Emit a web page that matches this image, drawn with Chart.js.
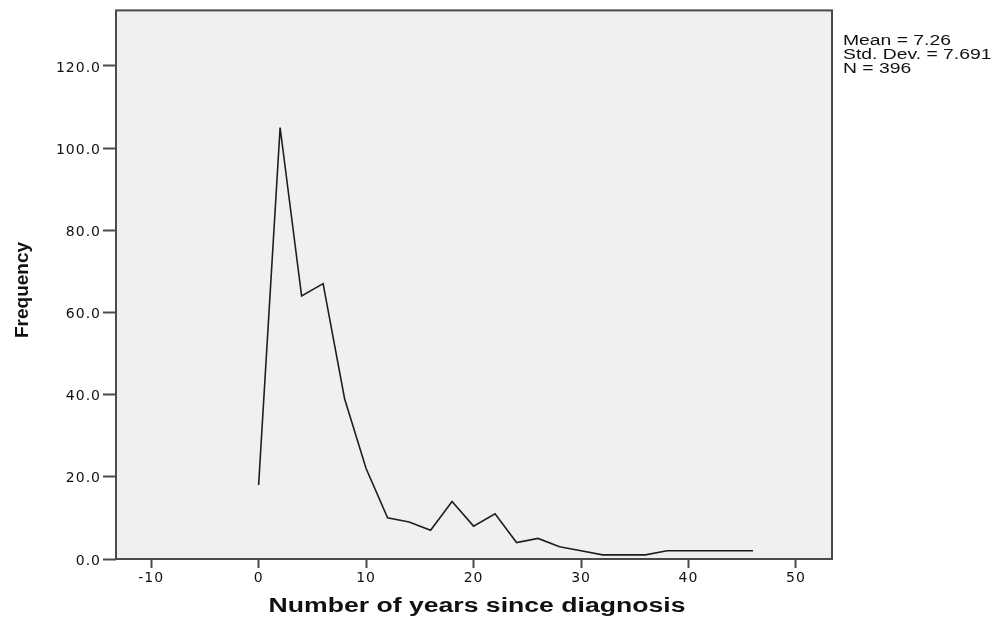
<!DOCTYPE html>
<html>
<head>
<meta charset="utf-8">
<script src="https://cdn.jsdelivr.net/npm/chart.js@4.4.0/dist/chart.umd.min.js"></script>
<style>
  html, body { margin: 0; padding: 0; background: #ffffff; }
  #wrap { width: 993px; height: 619px; }
</style>
</head>
<body>
<div id="wrap"><canvas id="chart" width="993" height="619"></canvas></div>
<script>
// Frequency polygon: years since diagnosis
const yearsSinceDiagnosis = [0, 2, 4, 6, 8, 10, 12, 14, 16, 18, 20, 22, 24, 26, 28, 30, 32, 34, 36, 38, 40, 42, 44, 46];
const frequencies = [18, 105, 64, 67, 39, 22, 10, 9, 7, 14, 8, 11, 4, 5, 3, 2, 1, 1, 1, 2, 2, 2, 2, 2];

const xTickValues = [-10, 0, 10, 20, 30, 40, 50];
const yTickValues = [0, 20, 40, 60, 80, 100, 120];
const xTitle = "Number of years since diagnosis";
const yTitle = "Frequency";
const statsLines = ["Mean = 7.26", "Std. Dev. = 7.691", "N = 396"];

// the original picture is stretched sideways, so the text is wide
const wideFont = "'DejaVu Sans', Verdana, sans-serif";
const arialFont = "'Liberation Sans', Arial, sans-serif";

// draw text stretched horizontally by sx
function wideText(ctx, text, x, y, sx) {
    ctx.save();
    ctx.translate(x, y);
    ctx.scale(sx, 1);
    ctx.fillText(text, 0, 0);
    ctx.restore();
}

// plot background, frame, axis titles and the stats text
const framePlugin = {
    id: "frame",
    beforeDraw(chart) {
        const { ctx, chartArea: a } = chart;
        ctx.letterSpacing = "1px";
        ctx.save();
        ctx.fillStyle = "#f0f0f0";
        ctx.fillRect(a.left, a.top, a.right - a.left, a.bottom - a.top);
        ctx.restore();
    },
    afterDraw(chart) {
        const { ctx, chartArea: a } = chart;
        ctx.save();
        ctx.letterSpacing = "0px";
        ctx.strokeStyle = "#4a4a4a";
        ctx.lineWidth = 2;
        ctx.strokeRect(a.left, a.top, a.right - a.left, a.bottom - a.top);

        ctx.fillStyle = "#111111";
        ctx.font = "14px " + arialFont;
        ctx.textAlign = "left";
        ctx.textBaseline = "middle";
        statsLines.forEach((line, i) => {
            wideText(ctx, line, a.right + 11, 41 + i * 14, 1.38);
        });

        ctx.font = "bold 20px " + arialFont;
        ctx.textAlign = "center";
        ctx.textBaseline = "alphabetic";
        wideText(ctx, xTitle, 477, 612, 1.33);

        ctx.font = "bold 19px " + arialFont;
        ctx.translate(28, 290);
        ctx.rotate(-Math.PI / 2);
        ctx.fillText(yTitle, 0, 0);
        ctx.restore();
    }
};

new Chart(document.getElementById("chart"), {
    type: "line",
    data: {
        datasets: [{
            data: yearsSinceDiagnosis.map((x, i) => ({ x: x, y: frequencies[i] })),
            borderColor: "#1e1e1e",
            borderWidth: 1.6,
            pointRadius: 0,
            fill: false,
            tension: 0
        }]
    },
    options: {
        responsive: false,
        animation: false,
        layout: { padding: { left: 0, right: 161, top: 10, bottom: 0 } },
        plugins: {
            legend: { display: false },
            tooltip: { enabled: false }
        },
        scales: {
            x: {
                type: "linear",
                min: -13.27,
                max: 53.35,
                afterBuildTicks(scale) {
                    scale.ticks = xTickValues.map(v => ({ value: v }));
                },
                afterFit(scale) { scale.height = 60; },
                ticks: {
                    color: "#111111",
                    font: { family: wideFont, size: 14 },
                    padding: 2,
                    maxRotation: 0
                },
                grid: {
                    drawOnChartArea: false,
                    drawTicks: true,
                    tickLength: 9,
                    tickWidth: 2,
                    tickColor: "#4a4a4a"
                },
                border: { display: false }
            },
            y: {
                type: "linear",
                min: 0,
                max: 133.5,
                afterBuildTicks(scale) {
                    scale.ticks = yTickValues.map(v => ({ value: v }));
                },
                afterFit(scale) { scale.width = 116; },
                ticks: {
                    color: "#111111",
                    font: { family: wideFont, size: 14 },
                    padding: 2,
                    labelOffset: 2,
                    callback: v => Number(v).toFixed(1)
                },
                grid: {
                    drawOnChartArea: false,
                    drawTicks: true,
                    tickLength: 13,
                    tickWidth: 2,
                    tickColor: "#4a4a4a"
                },
                border: { display: false }
            }
        }
    },
    plugins: [framePlugin]
});
</script>
</body>
</html>
